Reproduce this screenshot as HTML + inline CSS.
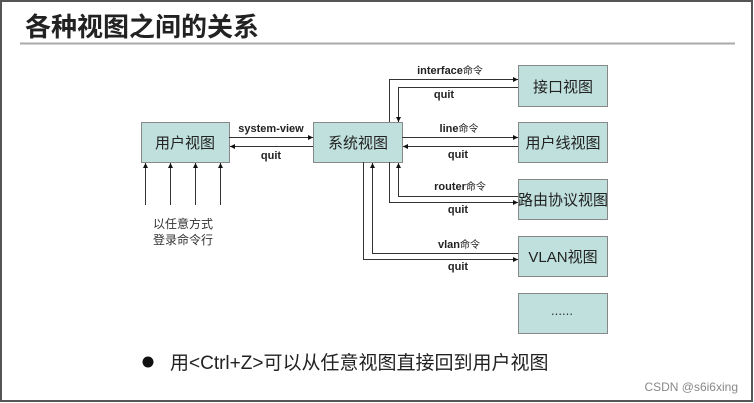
<!DOCTYPE html>
<html><head><meta charset="utf-8"><style>
html,body{margin:0;padding:0;background:#fff;}
svg{display:block;}
</style></head><body>
<svg width="754" height="403" viewBox="0 0 754 403" xmlns="http://www.w3.org/2000/svg" font-family="Liberation Sans, Noto Sans CJK SC, sans-serif">
<defs>
<marker id="a" markerWidth="6" markerHeight="6" refX="5" refY="3" orient="auto" markerUnits="userSpaceOnUse"><path d="M0,0.5 L5,3 L0,5.5z" fill="#111"/></marker>
</defs>
<rect x="0" y="0" width="754" height="403" fill="#fff"/>
<rect x="1" y="1" width="751" height="400" fill="none" stroke="#555" stroke-width="2"/>
<text x="25" y="36" font-size="26" font-weight="bold" fill="#222" font-family="Noto Sans CJK SC, sans-serif">各种视图之间的关系</text>
<line x1="20" y1="43.5" x2="735" y2="43.5" stroke="#aaa" stroke-width="2"/>
<g fill="#bfe0dc" stroke="#888" stroke-width="1">
<rect x="141.5" y="122.5" width="88" height="40"/>
<rect x="313.5" y="122.5" width="89" height="40"/>
<rect x="518.5" y="65.5" width="89" height="41"/>
<rect x="518.5" y="122.5" width="89" height="40"/>
<rect x="518.5" y="179.5" width="89" height="40"/>
<rect x="518.5" y="236.5" width="89" height="40"/>
<rect x="518.5" y="293.5" width="89" height="40"/>
</g>
<g font-size="15" fill="#222" text-anchor="middle" font-family="Noto Sans CJK SC, sans-serif">
<text x="185" y="148">用户视图</text>
<text x="358" y="148">系统视图</text>
<text x="563" y="92">接口视图</text>
<text x="563" y="148">用户线视图</text>
<text x="563" y="205">路由协议视图</text>
<text x="563" y="262" font-family="Liberation Sans, Noto Sans CJK SC, sans-serif">VLAN视图</text>
<text x="562" y="318" font-size="11">……</text>
</g>
<g stroke="#333" stroke-width="1" fill="none">
<line x1="229" y1="137.5" x2="313" y2="137.5" marker-end="url(#a)"/>
<line x1="313" y1="146.5" x2="230" y2="146.5" marker-end="url(#a)"/>
<polyline points="389.5,122 389.5,79.5 518,79.5" marker-end="url(#a)"/>
<polyline points="518,87.5 398.5,87.5 398.5,122" marker-end="url(#a)"/>
<line x1="402" y1="137.5" x2="518" y2="137.5" marker-end="url(#a)"/>
<line x1="518" y1="146.5" x2="403" y2="146.5" marker-end="url(#a)"/>
<polyline points="518,196.5 398.5,196.5 398.5,163" marker-end="url(#a)"/>
<polyline points="389.5,162 389.5,202.5 518,202.5" marker-end="url(#a)"/>
<polyline points="518,253.5 372.5,253.5 372.5,163" marker-end="url(#a)"/>
<polyline points="363.5,162 363.5,259.5 518,259.5" marker-end="url(#a)"/>
<line x1="145.5" y1="205" x2="145.5" y2="163" marker-end="url(#a)"/>
<line x1="170.5" y1="205" x2="170.5" y2="163" marker-end="url(#a)"/>
<line x1="195.5" y1="205" x2="195.5" y2="163" marker-end="url(#a)"/>
<line x1="220.5" y1="205" x2="220.5" y2="163" marker-end="url(#a)"/>
</g>
<g font-size="11" font-weight="bold" fill="#222" text-anchor="middle">
<text x="271" y="132">system-view</text>
<text x="271" y="159">quit</text>
<text x="450" y="74">interface<tspan font-weight="normal" font-size="10">命令</tspan></text>
<text x="444" y="98">quit</text>
<text x="459" y="132">line<tspan font-weight="normal" font-size="10">命令</tspan></text>
<text x="458" y="158">quit</text>
<text x="460" y="190">router<tspan font-weight="normal" font-size="10">命令</tspan></text>
<text x="458" y="213">quit</text>
<text x="459" y="248">vlan<tspan font-weight="normal" font-size="10">命令</tspan></text>
<text x="458" y="270">quit</text>
</g>
<g font-size="12" fill="#333" text-anchor="middle" font-family="Noto Sans CJK SC, sans-serif">
<text x="183" y="228">以任意方式</text>
<text x="183" y="244">登录命令行</text>
</g>
<circle cx="148" cy="362" r="5.5" fill="#111"/>
<text x="170" y="369" font-size="19" fill="#222">用&lt;Ctrl+Z&gt;可以从任意视图直接回到用户视图</text>
<text x="738" y="391" font-size="12" fill="#888" text-anchor="end">CSDN @s6i6xing</text>
</svg>
</body></html>
